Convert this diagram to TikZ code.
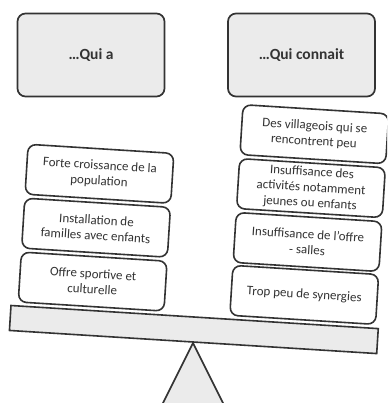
\documentclass[tikz,border=0pt]{standalone}
\usepackage{fontspec}
\setmainfont{Carlito}
\definecolor{boxgray}{HTML}{EBEBEB}
\definecolor{linegray}{HTML}{333333}
\definecolor{textgray}{HTML}{333333}
\tikzset{
  head/.style={draw=linegray, line width=1.7pt, fill=boxgray, rounded corners=8pt,
    minimum width=147pt, minimum height=83pt, text=textgray,
    font=\fontsize{15.5}{18}\selectfont\bfseries},
  weight/.style={draw=linegray, line width=1.6pt, fill=white, rounded corners=8pt,
    minimum width=146pt, minimum height=50pt, inner sep=0pt, align=center,
    text=textgray, font=\fontsize{13}{15.5}\selectfont},
  beamstyle/.style={draw=linegray, line width=1.6pt, fill=boxgray}
}
\begin{document}
\begin{tikzpicture}[x=1pt,y=-1pt]
    \useasboundingbox (0,0) rectangle (387,403);
    \clip (0,0) rectangle (387,403);
    \node[head] (quia) at (91,55) {…Qui a};
    \node[head] (quiconnait) at (301.5,55) {…Qui connait};

    \draw[beamstyle] (193,343) -- (133,463) -- (253,463) -- cycle;
    \begin{scope}[rotate around={-3.6:(193,343)}, transform shape]
        \node[beamstyle, minimum width=368pt, minimum height=25pt, inner sep=0pt] (beam) at (193,329.5) {};

        \node[weight] (forte) at (89,180) {Forte croissance de la\\population};
        \node[weight] (familles) at (89,234) {Installation de\\familles avec enfants};
        \node[weight] (offre) at (89,288) {Offre sportive et\\culturelle};

        \node[weight] (villageois) at (301,127) {Des villageois qui se\\rencontrent peu};
        \node[weight] (activites) at (301,181) {Insuffisance des\\activités notamment\\jeunes ou enfants};
        \node[weight] (salles) at (301,235) {Insuffisance de l’offre\\- salles};
        \node[weight] (synergies) at (301,288) {Trop peu de synergies};
    \end{scope}
\end{tikzpicture}
\end{document}
